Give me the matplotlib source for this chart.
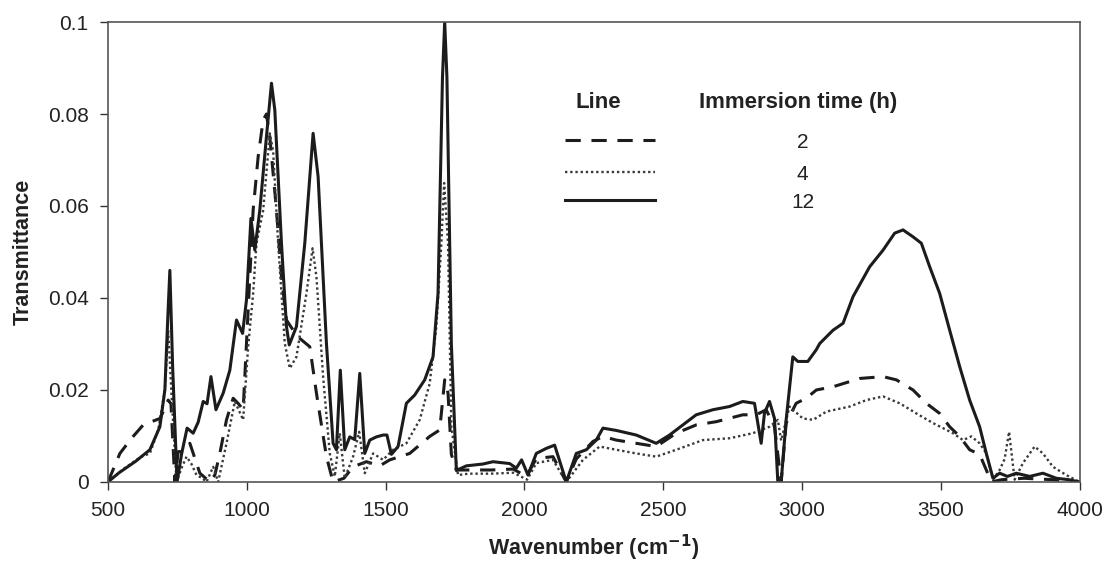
import matplotlib as mpl
mpl.use('Agg')
import matplotlib.pyplot as plt
from matplotlib import font_manager
from matplotlib.lines import Line2D
from matplotlib.ticker import FuncFormatter, MultipleLocator

# pick a narrow Arial-like face if there is one
names = {f.name for f in font_manager.fontManager.ttflist}
narrow = 'Liberation Sans Narrow' if 'Liberation Sans Narrow' in names else 'Liberation Sans'
plt.rcParams['font.family'] = [narrow, 'DejaVu Sans']

# 12 h immersion (solid)
wn_12 = [
    500, 540, 600, 651, 687, 705, 715, 723, 733, 749,
    765, 785, 807, 825, 843, 857, 871, 889, 915, 939,
    963, 985, 999, 1015, 1029, 1047, 1071, 1089, 1101, 1125,
    1143, 1153, 1179, 1209, 1239, 1257, 1287, 1311, 1323, 1337,
    1353, 1371, 1389, 1407, 1425, 1443, 1467, 1491, 1505, 1521,
    1545, 1575, 1605, 1641, 1671, 1689, 1705, 1713, 1721, 1737,
    1755, 1791, 1851, 1887, 1947, 1971, 1990, 2013, 2043, 2079,
    2109, 2151, 2187, 2223, 2259, 2283, 2331, 2403, 2475, 2523,
    2571, 2619, 2679, 2739, 2787, 2829, 2853, 2865, 2883, 2901,
    2913, 2925, 2943, 2967, 2985, 3021, 3051, 3064, 3112, 3148,
    3184, 3244, 3292, 3334, 3364, 3400, 3430, 3460, 3496, 3532,
    3568, 3604, 3640, 3664, 3688, 3712, 3740, 3772, 3820, 3868,
    3916, 3960, 4000]
tr_12 = [
    0.0, 0.002, 0.0045, 0.007, 0.012, 0.02, 0.035, 0.046, 0.025, 0.0,
    0.006, 0.0117, 0.0106, 0.013, 0.0175, 0.017, 0.0229, 0.0157, 0.0193, 0.0243,
    0.0352, 0.0323, 0.0396, 0.0573, 0.0504, 0.0591, 0.0751, 0.0867, 0.0809, 0.0519,
    0.0338, 0.0298, 0.0338, 0.0519, 0.0758, 0.0664, 0.0301, 0.0084, 0.007, 0.0243,
    0.007, 0.0098, 0.0092, 0.0236, 0.0062, 0.0091, 0.0098, 0.0102, 0.0102, 0.006,
    0.0077, 0.0171, 0.0189, 0.0222, 0.0272, 0.041, 0.088, 0.1, 0.088, 0.030,
    0.0025, 0.0035, 0.0039, 0.0044, 0.004, 0.003, 0.0048, 0.0015, 0.0062, 0.0073,
    0.008, 0.0, 0.0062, 0.007, 0.0091, 0.0117, 0.0112, 0.0102, 0.0084, 0.0102,
    0.0124, 0.0146, 0.0157, 0.0164, 0.0175, 0.0171, 0.0084, 0.015, 0.0175, 0.0138,
    0.0, 0.0, 0.0135, 0.0272, 0.0262, 0.0262, 0.0287, 0.0301, 0.033, 0.0345,
    0.0403, 0.0468, 0.0504, 0.0541, 0.0548, 0.0533, 0.0519, 0.0468, 0.041, 0.033,
    0.0251, 0.0178, 0.012, 0.0062, 0.0008, 0.0019, 0.0012, 0.0019, 0.0012, 0.0019,
    0.0008, 0.0005, 0.0]

# 2 h immersion (dashed)
wn_2 = [
    500, 543, 585, 627, 687, 705, 717, 727, 741, 753,
    770, 795, 831, 867, 885, 903, 927, 951, 970, 987,
    1005, 1023, 1041, 1059, 1071, 1083, 1107, 1125, 1143, 1167,
    1191, 1227, 1251, 1287, 1311, 1350, 1383, 1431, 1479, 1515,
    1587, 1659, 1695, 1713, 1725, 1737, 1755, 1800, 1880, 1960,
    2007, 2043, 2103, 2151, 2187, 2247, 2283, 2331, 2403, 2475,
    2547, 2619, 2691, 2787, 2835, 2871, 2901, 2925, 2943, 2979,
    3015, 3052, 3112, 3208, 3292, 3340, 3400, 3448, 3496, 3532,
    3568, 3604, 3640, 3664, 3682, 3720, 3800, 3900, 4000]
tr_2 = [
    0.0, 0.0062, 0.0095, 0.0124, 0.0138, 0.016, 0.0178, 0.017, 0.0, 0.0066,
    0.0066, 0.0084, 0.0019, 0.0, 0.0015, 0.0062, 0.0135, 0.0182, 0.017, 0.0157,
    0.0374, 0.0591, 0.0707, 0.0787, 0.080, 0.075, 0.0591, 0.0446, 0.0352, 0.033,
    0.0312, 0.0294, 0.0193, 0.0055, 0.0, 0.0008, 0.0033, 0.0044, 0.0035, 0.0048,
    0.0062, 0.0099, 0.0113, 0.0222, 0.0193, 0.006, 0.0026, 0.0026, 0.0026, 0.0028,
    0.0012, 0.0051, 0.0055, 0.0, 0.005, 0.0088, 0.0099, 0.0091, 0.0084, 0.0077,
    0.0106, 0.0124, 0.0131, 0.0146, 0.0146, 0.0157, 0.012, 0.0, 0.0128, 0.0171,
    0.0182, 0.02, 0.0207, 0.0225, 0.0229, 0.0222, 0.02, 0.0171, 0.0149, 0.012,
    0.0099, 0.007, 0.006, 0.0026, 0.0, 0.0005, 0.0008, 0.0005, 0.0]

# 4 h immersion (dotted)
wn_4 = [
    500, 560, 620, 651, 681, 705, 717, 729, 747, 765,
    783, 800, 819, 840, 855, 879, 897, 927, 957, 987,
    1005, 1023, 1035, 1059, 1083, 1095, 1113, 1137, 1155, 1179,
    1215, 1237, 1251, 1275, 1299, 1317, 1335, 1353, 1383, 1405,
    1425, 1455, 1491, 1527, 1575, 1623, 1659, 1683, 1701, 1711,
    1725, 1737, 1761, 1800, 1880, 1960, 2010, 2043, 2103, 2151,
    2211, 2271, 2331, 2403, 2475, 2547, 2643, 2739, 2823, 2883,
    2913, 2925, 2955, 3003, 3040, 3088, 3172, 3232, 3292, 3352,
    3412, 3472, 3544, 3580, 3610, 3640, 3664, 3688, 3712, 3730,
    3746, 3766, 3796, 3838, 3868, 3904, 3952, 4000]
tr_4 = [
    0.0, 0.003, 0.0055, 0.0062, 0.0113, 0.02, 0.033, 0.019, 0.0, 0.003,
    0.0055, 0.004, 0.0015, 0.0008, 0.0, 0.0033, 0.0, 0.0084, 0.0175, 0.0135,
    0.0294, 0.041, 0.0519, 0.059, 0.0758, 0.072, 0.0519, 0.0301, 0.0247, 0.0272,
    0.041, 0.0508, 0.0446, 0.0229, 0.0062, 0.0012, 0.0106, 0.0008, 0.0055, 0.0109,
    0.0019, 0.0062, 0.0048, 0.007, 0.0084, 0.0135, 0.0214, 0.0338, 0.0519, 0.065,
    0.0519, 0.012, 0.0015, 0.0018, 0.0018, 0.002, 0.0005, 0.0041, 0.0048, 0.0,
    0.0048, 0.0077, 0.007, 0.0062, 0.0055, 0.007, 0.0091, 0.0095, 0.0106, 0.012,
    0.0135, 0.009, 0.0164, 0.0138, 0.0135, 0.0153, 0.0164, 0.0178, 0.0186, 0.0171,
    0.0149, 0.0128, 0.0106, 0.0091, 0.0099, 0.0084, 0.0062, 0.0005, 0.0026, 0.005,
    0.0109, 0.0005, 0.0041, 0.0077, 0.0062, 0.0033, 0.0015, 0.0]

hours = ['2', '4', '12']

fig = plt.figure(figsize=(11.05, 5.65), dpi=100)
ax = fig.add_axes([0.0977, 0.147, 0.8793, 0.814])

ink = '#1c1c1c'
ax.plot(wn_2, tr_2, color=ink, lw=2.2, dashes=(5, 3.5))
ax.plot(wn_4, tr_4, color='#3a3a3a', lw=1.7, dashes=(1, 1.2))
ax.plot(wn_12, tr_12, color=ink, lw=2.2)

ax.set_xlim(500, 4000)
ax.set_ylim(0, 0.1)
ax.xaxis.set_major_locator(MultipleLocator(500))
ax.yaxis.set_major_locator(MultipleLocator(0.02))
ax.yaxis.set_major_formatter(FuncFormatter(lambda v, p: '%g' % round(v, 3)))
ax.tick_params(direction='out', length=6, width=1, colors='#333333',
               labelsize=15, labelcolor='#222222', pad=8)
for s in ax.spines.values():
    s.set_color('#555555')
    s.set_linewidth(1.2)

ax.set_xlabel('Wavenumber (cm$^{\\mathbf{-1}}$)', fontsize=15.5,
              fontweight='bold', color='#222222', labelpad=9)
ax.set_ylabel('Transmittance', fontsize=15.5, fontweight='bold',
              color='#222222', labelpad=10)

# hand built key: line sample on the left, hours on the right
ax.text(0.505, 0.824, 'Line', transform=ax.transAxes, ha='center',
        va='center', fontsize=16, fontweight='bold', color='#222222')
ax.text(0.710, 0.824, 'Immersion time (h)', transform=ax.transAxes,
        ha='center', va='center', fontsize=16, fontweight='bold',
        color='#222222')
styles = [dict(dashes=(5, 3.5), lw=2.2, color=ink),
          dict(dashes=(1, 1.2), lw=1.7, color='#3a3a3a'),
          dict(lw=2.2, color=ink)]
rows = [0.744, 0.674, 0.614]
for h, st, yy in zip(hours, styles, rows):
    ax.add_line(Line2D([0.470, 0.563], [yy, yy], transform=ax.transAxes, **st))
    ax.text(0.715, yy - 0.006, h, transform=ax.transAxes, ha='center',
            va='center', fontsize=15, color='#222222')

fig.savefig('out.png', dpi=100)
